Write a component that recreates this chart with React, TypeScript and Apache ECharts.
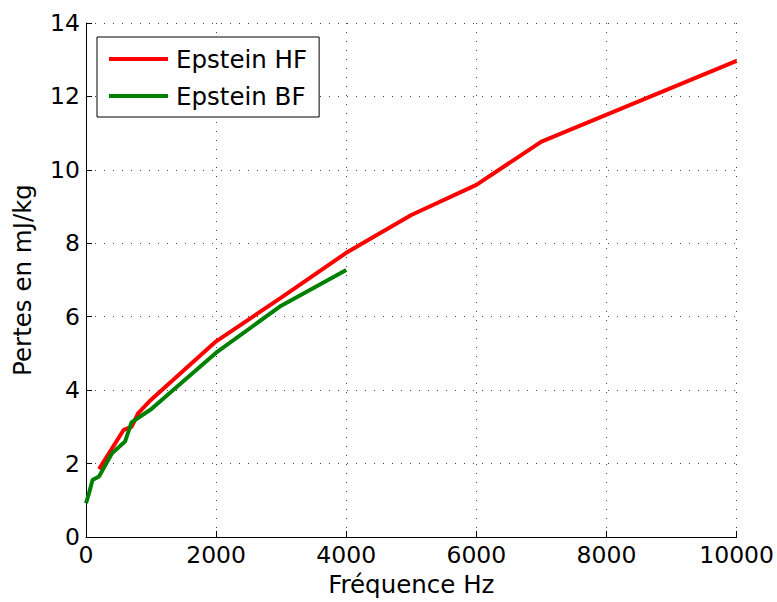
import React, { useEffect, useRef } from "react";
import * as echarts from "echarts";

const hfFreq = [200, 580, 700, 800, 1000, 2000, 3000, 4000, 5000, 6000, 7000, 10000];
const hfLoss = [1.85, 2.92, 3.0, 3.37, 3.74, 5.33, 6.52, 7.74, 8.77, 9.59, 10.77, 12.97];

const bfFreq = [0, 40, 100, 200, 400, 600, 700, 1000, 2000, 3000, 4000];
const bfLoss = [0.92, 1.15, 1.55, 1.65, 2.28, 2.6, 3.12, 3.48, 5.02, 6.3, 7.27];

const seriesNames = ["Epstein HF", "Epstein BF"];
const xAxisTitle = "Fréquence Hz";
const yAxisTitle = "Pertes en mJ/kg";

const FONT = "DejaVu Sans, Liberation Sans, Arial, sans-serif";
const FS = 23.5;
const FS_NAME = 24.5;

export default function App() {
  const ref = useRef<HTMLDivElement>(null);
  useEffect(() => {
    if (!ref.current) return;
    const chart = echarts.init(ref.current, undefined, { renderer: "svg" });
    const grid = { type: [1, 8] as any, color: "#444", width: 1 };
    chart.setOption({
      animation: false,
      backgroundColor: "#fff",
      textStyle: { fontFamily: FONT },
      grid: { left: 86, right: 38, top: 23, bottom: 65, containLabel: false },
      legend: {
        orient: "vertical",
        left: 97,
        top: 37,
        backgroundColor: "#fff",
        borderColor: "#000",
        borderWidth: 1,
        padding: [8, 12, 7, 12],
        itemWidth: 59,
        itemHeight: 4,
        itemGap: 9,
        icon: "rect",
        textStyle: { fontSize: FS_NAME, lineHeight: 28, color: "#000", fontFamily: FONT, padding: [0, 0, 0, 3] },
        data: seriesNames,
      },
      xAxis: {
        type: "value",
        min: 0,
        max: 10000,
        interval: 2000,
        name: xAxisTitle,
        nameLocation: "middle",
        nameGap: 32,
        nameTextStyle: { fontSize: FS_NAME, color: "#000", fontFamily: FONT },
        axisLine: { show: true, lineStyle: { color: "#000", width: 1 } },
        axisTick: { show: true, inside: true, length: 6, lineStyle: { color: "#000" } },
        axisLabel: { fontSize: FS, color: "#000", margin: 6, fontFamily: FONT, formatter: (v: number) => String(v) },
        splitLine: { show: true, lineStyle: grid },
      },
      yAxis: {
        type: "value",
        min: 0,
        max: 14,
        interval: 2,
        name: yAxisTitle,
        nameLocation: "middle",
        nameGap: 51,
        nameTextStyle: { fontSize: FS_NAME, color: "#000", fontFamily: FONT },
        axisLine: { show: true, lineStyle: { color: "#000", width: 1 } },
        axisTick: { show: true, inside: true, length: 6, lineStyle: { color: "#000" } },
        axisLabel: { fontSize: FS, color: "#000", margin: 6, fontFamily: FONT, formatter: (v: number) => String(v) },
        splitLine: { show: true, lineStyle: grid },
      },
      series: [
        {
          name: seriesNames[0],
          type: "line",
          showSymbol: false,
          symbol: "none",
          color: "#ff0000",
          lineStyle: { color: "#ff0000", width: 4 },
          data: hfFreq.map((f, i) => [f, hfLoss[i]]),
        },
        {
          name: seriesNames[1],
          type: "line",
          showSymbol: false,
          symbol: "none",
          color: "#008000",
          lineStyle: { color: "#008000", width: 4 },
          data: bfFreq.map((f, i) => [f, bfLoss[i]]),
        },
      ],
    });
    return () => chart.dispose();
  }, []);
  return (
    <div
      ref={ref}
      style={{ position: "fixed", left: 0, top: 0, width: 777, height: 602, background: "#fff" }}
    />
  );
}
